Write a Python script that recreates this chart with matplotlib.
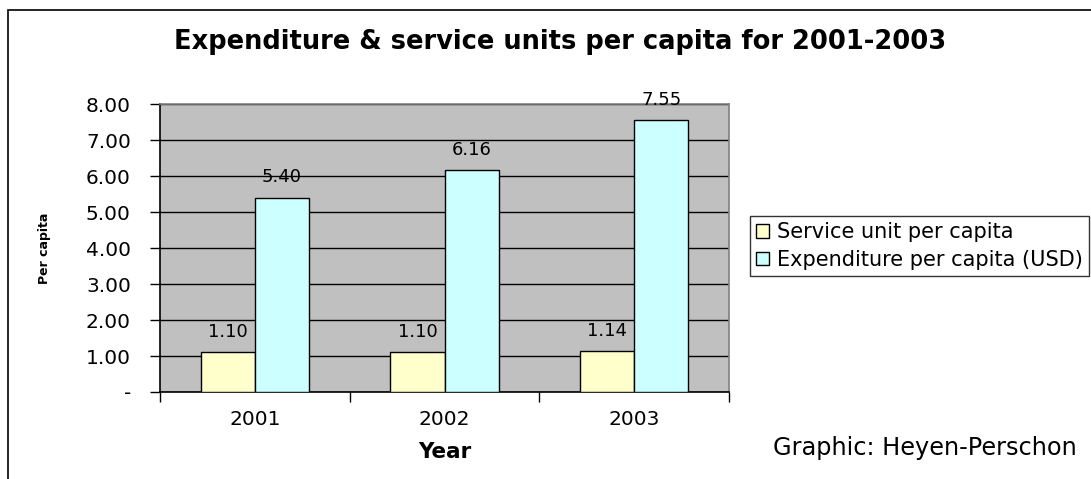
import matplotlib
matplotlib.use("Agg")
import matplotlib.pyplot as plt
from matplotlib.patches import Rectangle
import numpy as np

years = ["2001", "2002", "2003"]
service_units = [1.10, 1.10, 1.14]
expenditure = [5.40, 6.16, 7.55]
series_names = ["Service unit per capita", "Expenditure per capita (USD)"]
y_ticks = [0, 1, 2, 3, 4, 5, 6, 7, 8]
y_tick_labels = ["-", "1.00", "2.00", "3.00", "4.00", "5.00", "6.00", "7.00", "8.00"]

plt.rcParams["font.family"] = ["DejaVu Sans"]

W, H = 1091, 479
fig = plt.figure(figsize=(W / 100, H / 100), dpi=100)

# outer chart frame (runs past the right and bottom edges)
fig.patches.append(Rectangle((8 / W, -0.1), 1.2, 1.1 - 10 / H,
                             transform=fig.transFigure, fill=False,
                             edgecolor="black", linewidth=1.2, zorder=0))

ax = fig.add_axes([160 / W, 1 - 392 / H, (729 - 160) / W, (392 - 104) / H])
ax.set_facecolor("#C0C0C0")

x = np.arange(len(years))
bw = 0.285
b1 = ax.bar(x - bw / 2, service_units, bw, color="#FFFFCC", edgecolor="black",
            linewidth=1.0, label=series_names[0], zorder=3)
b2 = ax.bar(x + bw / 2, expenditure, bw, color="#CCFFFF", edgecolor="black",
            linewidth=1.0, label=series_names[1], zorder=3)

for bars, vals in ((b1, service_units), (b2, expenditure)):
    for rect, v in zip(bars, vals):
        ax.annotate(f"{v:.2f}", (rect.get_x() + rect.get_width() / 2, v),
                    xytext=(0, 14.5), textcoords="offset points",
                    ha="center", va="center", fontsize=13, zorder=4)

ax.set_xlim(-0.5, len(years) - 0.5)
ax.set_ylim(0, 8)
ax.set_yticks(y_ticks)
ax.set_yticklabels(y_tick_labels, fontsize=14.5)
ax.yaxis.grid(True, color="black", linewidth=1.0, zorder=1)
ax.set_axisbelow(True)

# category boundaries carry the tick marks; year labels sit at centres
ax.set_xticks(np.arange(len(years) + 1) - 0.5)
ax.set_xticklabels([])
ax.set_xticks(x, minor=True)
ax.set_xticklabels(years, minor=True, fontsize=14.5)
ax.tick_params(axis="x", which="minor", length=0, pad=13)
ax.tick_params(axis="x", which="major", length=7, width=1.0, direction="out")
ax.tick_params(axis="y", length=7, width=1.0, direction="out", pad=14)

ax.spines["left"].set_color("black")
ax.spines["bottom"].set_color("black")
ax.spines["top"].set_color("#808080")
ax.spines["right"].set_color("#808080")
for s in ax.spines.values():
    s.set_linewidth(1.2)

ax.set_xlabel("Year", fontsize=15.5, fontweight="bold", labelpad=9)
ax.set_ylabel("Per capita", fontsize=9, fontweight="bold", labelpad=25)

fig.text(560 / W, 1 - 42 / H, "Expenditure & service units per capita for 2001-2003",
         ha="center", va="center", fontsize=18.5, fontweight="bold")

leg = fig.legend(handles=[b1, b2], labels=series_names,
                 loc="upper left", bbox_to_anchor=(750 / W, 1 - 216 / H),
                 fontsize=15, frameon=True, fancybox=False, edgecolor="black",
                 handlelength=0.6, handleheight=0.6, handletextpad=0.4,
                 borderpad=0.3, labelspacing=0.35, borderaxespad=0)
leg.get_frame().set_linewidth(1.0)

fig.text(773 / W, 1 - 448 / H, "Graphic: Heyen-Perschon", ha="left", va="center",
         fontsize=17.3)

fig.savefig("out.png", dpi=100)
